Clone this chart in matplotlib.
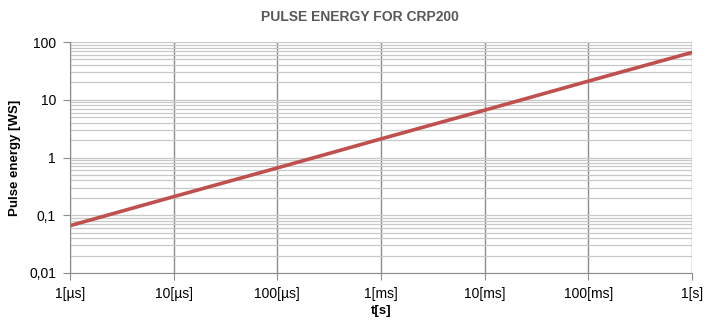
#!/usr/bin/env python3
"""Pulse energy vs pulse duration for CRP200."""

import matplotlib
matplotlib.use("Agg")
import matplotlib.pyplot as plt
from matplotlib.ticker import FixedLocator, NullFormatter

pulse_time_s = [1e-6, 1e-5, 1e-4, 1e-3, 1e-2, 1e-1, 1.0]
pulse_energy_ws = [0.066, 0.21, 0.66, 2.1, 6.6, 21.0, 66.0]

x_ticks = [1e-6, 1e-5, 1e-4, 1e-3, 1e-2, 1e-1, 1.0]
x_tick_labels = ["1[µs]", "10[µs]", "100[µs]", "1[ms]", "10[ms]", "100[ms]", "1[s]"]
y_ticks = [0.01, 0.1, 1, 10, 100]
y_tick_labels = ["0,01", "0,1", "1", "10", "100"]

plt.rcParams["font.family"] = ["Liberation Sans", "DejaVu Sans"]


def main() -> None:
    fig = plt.figure(figsize=(7.08, 3.2), dpi=100)
    ax = fig.add_axes([70 / 708, 1 - 273 / 320, 622 / 708, 231 / 320])

    ax.set_xscale("log")
    ax.set_yscale("log")
    ax.set_xlim(1e-6, 1.0)
    ax.set_ylim(0.01, 100)

    minor = [m * 10.0 ** e for e in range(-2, 2) for m in range(2, 10)]
    ax.yaxis.set_minor_locator(FixedLocator(minor))
    ax.yaxis.set_minor_formatter(NullFormatter())
    ax.xaxis.set_minor_locator(FixedLocator([]))

    ax.set_xticks(x_ticks)
    ax.set_xticklabels(x_tick_labels)
    ax.set_yticks(y_ticks)
    ax.set_yticklabels(y_tick_labels)

    ax.grid(axis="y", which="both", color="#c8c8c8", linewidth=0.9)
    ax.grid(axis="x", which="major", color="#8c8c8c", linewidth=1.0)
    ax.set_axisbelow(True)

    for side in ["top", "right"]:
        ax.spines[side].set_visible(False)
    ax.spines["left"].set_color("#8c8c8c")
    ax.spines["bottom"].set_color("#8c8c8c")
    ax.tick_params(axis="both", which="major", color="#8c8c8c", length=5,
                   labelsize=10, labelcolor="black")
    ax.tick_params(axis="x", which="major", pad=5)
    ax.tick_params(axis="y", which="major", pad=5)
    ax.tick_params(axis="y", which="minor", length=0)

    ax.plot(pulse_time_s, pulse_energy_ws, color="#c0504d", linewidth=2.6,
            solid_capstyle="butt")

    ax.set_xlabel("t[s]", fontsize=9.5, fontweight="bold", labelpad=3)
    ax.set_ylabel("Pulse energy [WS]", fontsize=9.5, fontweight="bold")
    ax.yaxis.set_label_coords(-49 / 622, 0.5)
    fig.text(360 / 708, 1 - 17 / 320, "PULSE ENERGY FOR CRP200", ha="center",
             va="center", fontsize=10, fontweight="bold", color="#595959")

    fig.savefig("out.png", dpi=100)
    plt.close(fig)


if __name__ == "__main__":
    main()
